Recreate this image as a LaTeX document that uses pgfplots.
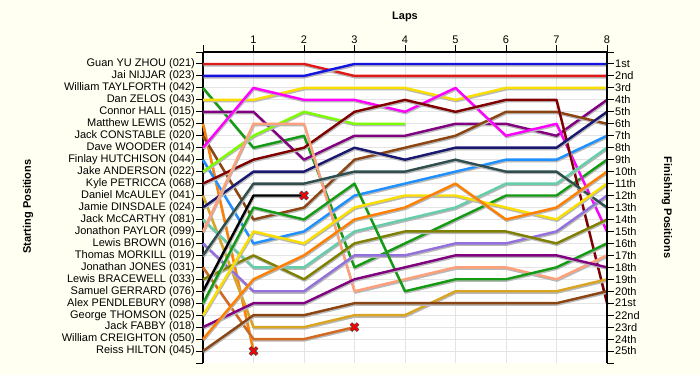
\documentclass[border=0pt]{standalone}
\usepackage{pgfplots}
\pgfplotsset{compat=1.18}
\usepackage{fontspec}
\setmainfont{Liberation Sans}
\definecolor{bg}{RGB}{255,255,242}
\definecolor{cRed}{RGB}{225,25,25}
\definecolor{cBlue}{RGB}{20,20,225}
\definecolor{cGreen}{RGB}{20,155,20}
\definecolor{cYellow}{RGB}{250,222,0}
\definecolor{cPurple}{RGB}{128,0,128}
\definecolor{cOrange}{RGB}{255,128,0}
\definecolor{cBrown}{RGB}{139,69,19}
\definecolor{cMagenta}{RGB}{255,0,255}
\definecolor{cDodger}{RGB}{30,144,255}
\definecolor{cLawn}{RGB}{124,252,0}
\definecolor{cMaroon}{RGB}{128,0,0}
\definecolor{cGold}{RGB}{218,165,32}
\definecolor{cNavy}{RGB}{25,25,112}
\definecolor{cAqua}{RGB}{102,205,170}
\definecolor{cSalmon}{RGB}{255,160,122}
\definecolor{cLav}{RGB}{147,112,219}
\definecolor{cSlate}{RGB}{47,79,79}
\definecolor{cChoc}{RGB}{210,105,30}
\definecolor{cOlive}{RGB}{128,128,0}
\definecolor{cGrid}{RGB}{228,228,228}
\pgfplotsset{
  ln/.style={mark=none, line width=2.4pt, line join=round,
    preaction={draw=black!28, line width=2.4pt, line join=round,
      transform canvas={xshift=0.6pt,yshift=-1.4pt}}},
}
\begin{document}
\begin{tikzpicture}[x=1pt,y=1pt]
\fill[bg] (0,0) rectangle (700,375);
\begin{axis}[
  at={(203pt,12pt)}, anchor=south west, scale only axis,
  width=404pt, height=311pt,
  xmin=0, xmax=8, ymin=0, ymax=26, y dir=reverse,
  axis background/.style={fill=white},
  axis x line*=top, axis y line*=left,
  axis line style={black, line width=1.3pt},
  xtick={0,...,8}, xticklabels={,1,2,3,4,5,6,7,8},
  ytick={1,...,25},
  yticklabels={Guan YU ZHOU (021),Jai NIJJAR (023),William TAYLFORTH (042),Dan ZELOS (043),Connor HALL (015),Matthew LEWIS (052),Jack CONSTABLE (020),Dave WOODER (014),Finlay HUTCHISON (044),Jake ANDERSON (022),Kyle PETRICCA (068),Daniel McAULEY (041),Jamie DINSDALE (024),Jack McCARTHY (081),Jonathon PAYLOR (099),Lewis BROWN (016),Thomas MORKILL (019),Jonathan JONES (031),Lewis BRACEWELL (033),Samuel GERRARD (076),Alex PENDLEBURY (098),George THOMSON (025),Jack FABBY (018),William CREIGHTON (050),Reiss HILTON (045)},
  extra y ticks={0,26}, extra y tick labels={}, extra tick style={grid=none},
  tick align=outside, major tick length=7pt,
  tick style={black, line width=1pt},
  grid=major, major grid style={cGrid, line width=1pt},
  ticklabel style={font=\fontsize{11}{13}\selectfont, inner sep=1pt},
  /pgf/number format/assume math mode=true,
  clip=false,
]
\addplot[ln, cRed] coordinates {(0,1)(1,1)(2,1)(3,2)(4,2)(5,2)(6,2)(7,2)(8,2)};
\addplot[ln, cBlue] coordinates {(0,2)(1,2)(2,2)(3,1)(4,1)(5,1)(6,1)(7,1)(8,1)};
\addplot[ln, cGreen] coordinates {(0,3)(1,8)(2,7)(3,18)(4,16)(5,14)(6,12)(7,12)(8,9)};
\addplot[ln, cYellow] coordinates {(0,4)(1,4)(2,3)(3,3)(4,3)(5,4)(6,3)(7,3)(8,3)};
\addplot[ln, cPurple] coordinates {(0,5)(1,5)(2,9)(3,7)(4,7)(5,6)(6,6)(7,7)(8,4)};
\addplot[ln, cOrange] coordinates {(0,6)(1,25)};
\addplot[ln, cBrown] coordinates {(0,7)(1,14)(2,13)(3,9)(4,8)(5,7)(6,5)(7,5)(8,6)};
\addplot[ln, cMagenta] coordinates {(0,8)(1,3)(2,4)(3,4)(4,5)(5,3)(6,7)(7,6)(8,15)};
\addplot[ln, cDodger] coordinates {(0,9)(1,16)(2,15)(3,12)(4,11)(5,10)(6,9)(7,9)(8,7)};
\addplot[ln, cLawn] coordinates {(0,10)(1,7)(2,5)(3,6)(4,6)};
\addplot[ln, cMaroon] coordinates {(0,11)(1,9)(2,8)(3,5)(4,4)(5,5)(6,4)(7,4)(8,21)};
\addplot[ln, cGold] coordinates {(0,12)(1,23)(2,23)(3,22)(4,22)(5,20)(6,20)(7,20)(8,19)};
\addplot[ln, cNavy] coordinates {(0,13)(1,10)(2,10)(3,8)(4,9)(5,8)(6,8)(7,8)(8,5)};
\addplot[ln, cAqua] coordinates {(0,14)(1,18)(2,18)(3,15)(4,14)(5,13)(6,11)(7,11)(8,8)};
\addplot[ln, cSalmon] coordinates {(0,15)(1,6)(2,6)(3,20)(4,19)(5,18)(6,18)(7,19)(8,17)};
\addplot[ln, cLav] coordinates {(0,16)(1,20)(2,20)(3,17)(4,17)(5,16)(6,16)(7,15)(8,12)};
\addplot[ln, cSlate] coordinates {(0,17)(1,11)(2,11)(3,10)(4,10)(5,9)(6,10)(7,10)(8,13)};
\addplot[ln, cChoc] coordinates {(0,18)(1,24)(2,24)(3,23)};
\addplot[ln, cOlive] coordinates {(0,19)(1,17)(2,19)(3,16)(4,15)(5,15)(6,15)(7,16)(8,14)};
\addplot[ln, black] coordinates {(0,20)(1,12)(2,12)};
\addplot[ln, cGreen] coordinates {(0,21)(1,13)(2,14)(3,11)(4,20)(5,19)(6,19)(7,18)(8,16)};
\addplot[ln, cYellow] coordinates {(0,22)(1,15)(2,16)(3,13)(4,12)(5,12)(6,13)(7,14)(8,11)};
\addplot[ln, cPurple] coordinates {(0,23)(1,21)(2,21)(3,19)(4,18)(5,17)(6,17)(7,17)(8,18)};
\addplot[ln, cOrange] coordinates {(0,24)(1,19)(2,17)(3,14)(4,13)(5,11)(6,14)(7,13)(8,10)};
\addplot[ln, cBrown] coordinates {(0,25)(1,22)(2,22)(3,21)(4,21)(5,21)(6,21)(7,21)(8,20)};
\addplot[only marks, mark=x, mark size=5pt, mark options={draw=black!75, line width=3.6pt}] coordinates {(1,25)(2,12)(3,23)};
\addplot[only marks, mark=x, mark size=5pt, mark options={draw=red, line width=2pt}] coordinates {(1,25)(2,12)(3,23)};
\end{axis}
\begin{axis}[
  at={(203pt,12pt)}, anchor=south west, scale only axis,
  width=404pt, height=311pt,
  xmin=0, xmax=8, ymin=0, ymax=26, y dir=reverse,
  axis x line=none, axis y line*=right,
  axis line style={black, line width=1.3pt},
  ytick={1,...,25},
  yticklabels={1st,2nd,3rd,4th,5th,6th,7th,8th,9th,10th,11th,12th,13th,14th,15th,16th,17th,18th,19th,20th,21st,22nd,23rd,24th,25th},
  extra y ticks={0,26}, extra y tick labels={},
  tick align=outside, major tick length=7pt,
  tick style={black, line width=1pt},
  ticklabel style={font=\fontsize{11}{13}\selectfont, inner sep=1pt},
]
\end{axis}
\node[font=\fontsize{11}{13}\selectfont\bfseries] at (405,358) {Laps};
\node[font=\fontsize{11}{13}\selectfont\bfseries, rotate=90] at (28,168.5) {Starting Positions};
\node[font=\fontsize{11}{13}\selectfont\bfseries, rotate=-90] at (667,167.5) {Finishing Positions};
\end{tikzpicture}
\end{document}
